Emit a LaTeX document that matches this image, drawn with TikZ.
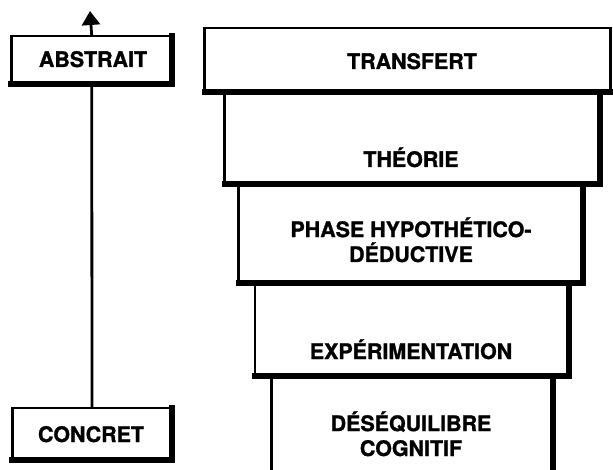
\documentclass[tikz,border=0pt]{standalone}
\usepackage{fontspec}
\setmainfont{TeX Gyre Heros}[FakeBold=1.2]
\usetikzlibrary{arrows.meta}
\newcommand\stagebox[5]{%
  \node[boxfill, minimum width={(#4)-(#2)}, minimum height={(#5)-(#3)}] (#1) at ({((#2)+(#4))/2},{((#3)+(#5))/2}) {};}
\begin{document}
\begin{tikzpicture}[x=1bp,y=-1bp,
  thinline/.style={line width=2.6bp, line cap=rect},
  thickline/.style={line width=6bp, line cap=rect},
  boxfill/.style={fill=white, draw=none, inner sep=0pt, outer sep=0pt},
  lbl/.style={font=\fontsize{21.5}{25}\selectfont\bfseries, align=center, anchor=base, inner sep=0pt},
  conn/.style={line width=2.8bp}]
\useasboundingbox (0,0) rectangle (613,470);

% left column
\coordinate (tip) at (90,11);
\stagebox{concret}{12}{408}{172}{460}
\stagebox{abstrait}{11}{36}{172.5}{84.5}
\draw[conn] (concret.north) -- (abstrait.south);
\draw[conn, -{Triangle[width=18bp,length=14bp]}] (abstrait.north) -- (tip);
\foreach \n in {concret,abstrait}{
  \draw[thinline] (\n.south west) -- (\n.north west) -- (\n.north east);
  \draw[thickline] (\n.north east) -- (\n.south east) -- (\n.south west);
}
\node[lbl] (labstrait) at (93,67) {ABSTRAIT};
\node[lbl] (lconcret) at (91,442) {CONCRET};

% right stack, bottom to top
\stagebox{deseq}{271}{376}{554}{480}
\draw[thinline] (deseq.south west) -- (deseq.north west) -- (deseq.north east);
\draw[thickline] (deseq.north east) -- (deseq.south east);

\foreach \n/\a/\b/\c/\d in {exper/254.5/283/570/376, phase/238/184.5/584/283, theorie/224/92/601/184.5}{
  \stagebox{\n}{\a}{\b}{\c}{\d}
  \draw[thinline] (\n.south west) -- (\n.north west) -- (\n.north east);
  \draw[thickline] (\n.north east) -- (\n.south east) -- (\n.south west);
}

\stagebox{transfert}{204}{28}{611.5}{92}
\draw[thinline] (transfert.south west) -- (transfert.north west) -- (transfert.north east) -- (transfert.south east);
\draw[thickline] (transfert.south east) -- (transfert.south west);

\node[lbl] (ltransfert) at (412,69) {TRANSFERT};
\node[lbl] (ltheorie) at (411,167) {THÉORIE};
\node[lbl] (lphase) at (411,262) {PHASE HYPOTHÉTICO-\\DÉDUCTIVE};
\node[lbl] (lexper) at (411,359) {EXPÉRIMENTATION};
\node[lbl] (ldeseq) at (411,456) {DÉSÉQUILIBRE\\COGNITIF};
\end{tikzpicture}
\end{document}
